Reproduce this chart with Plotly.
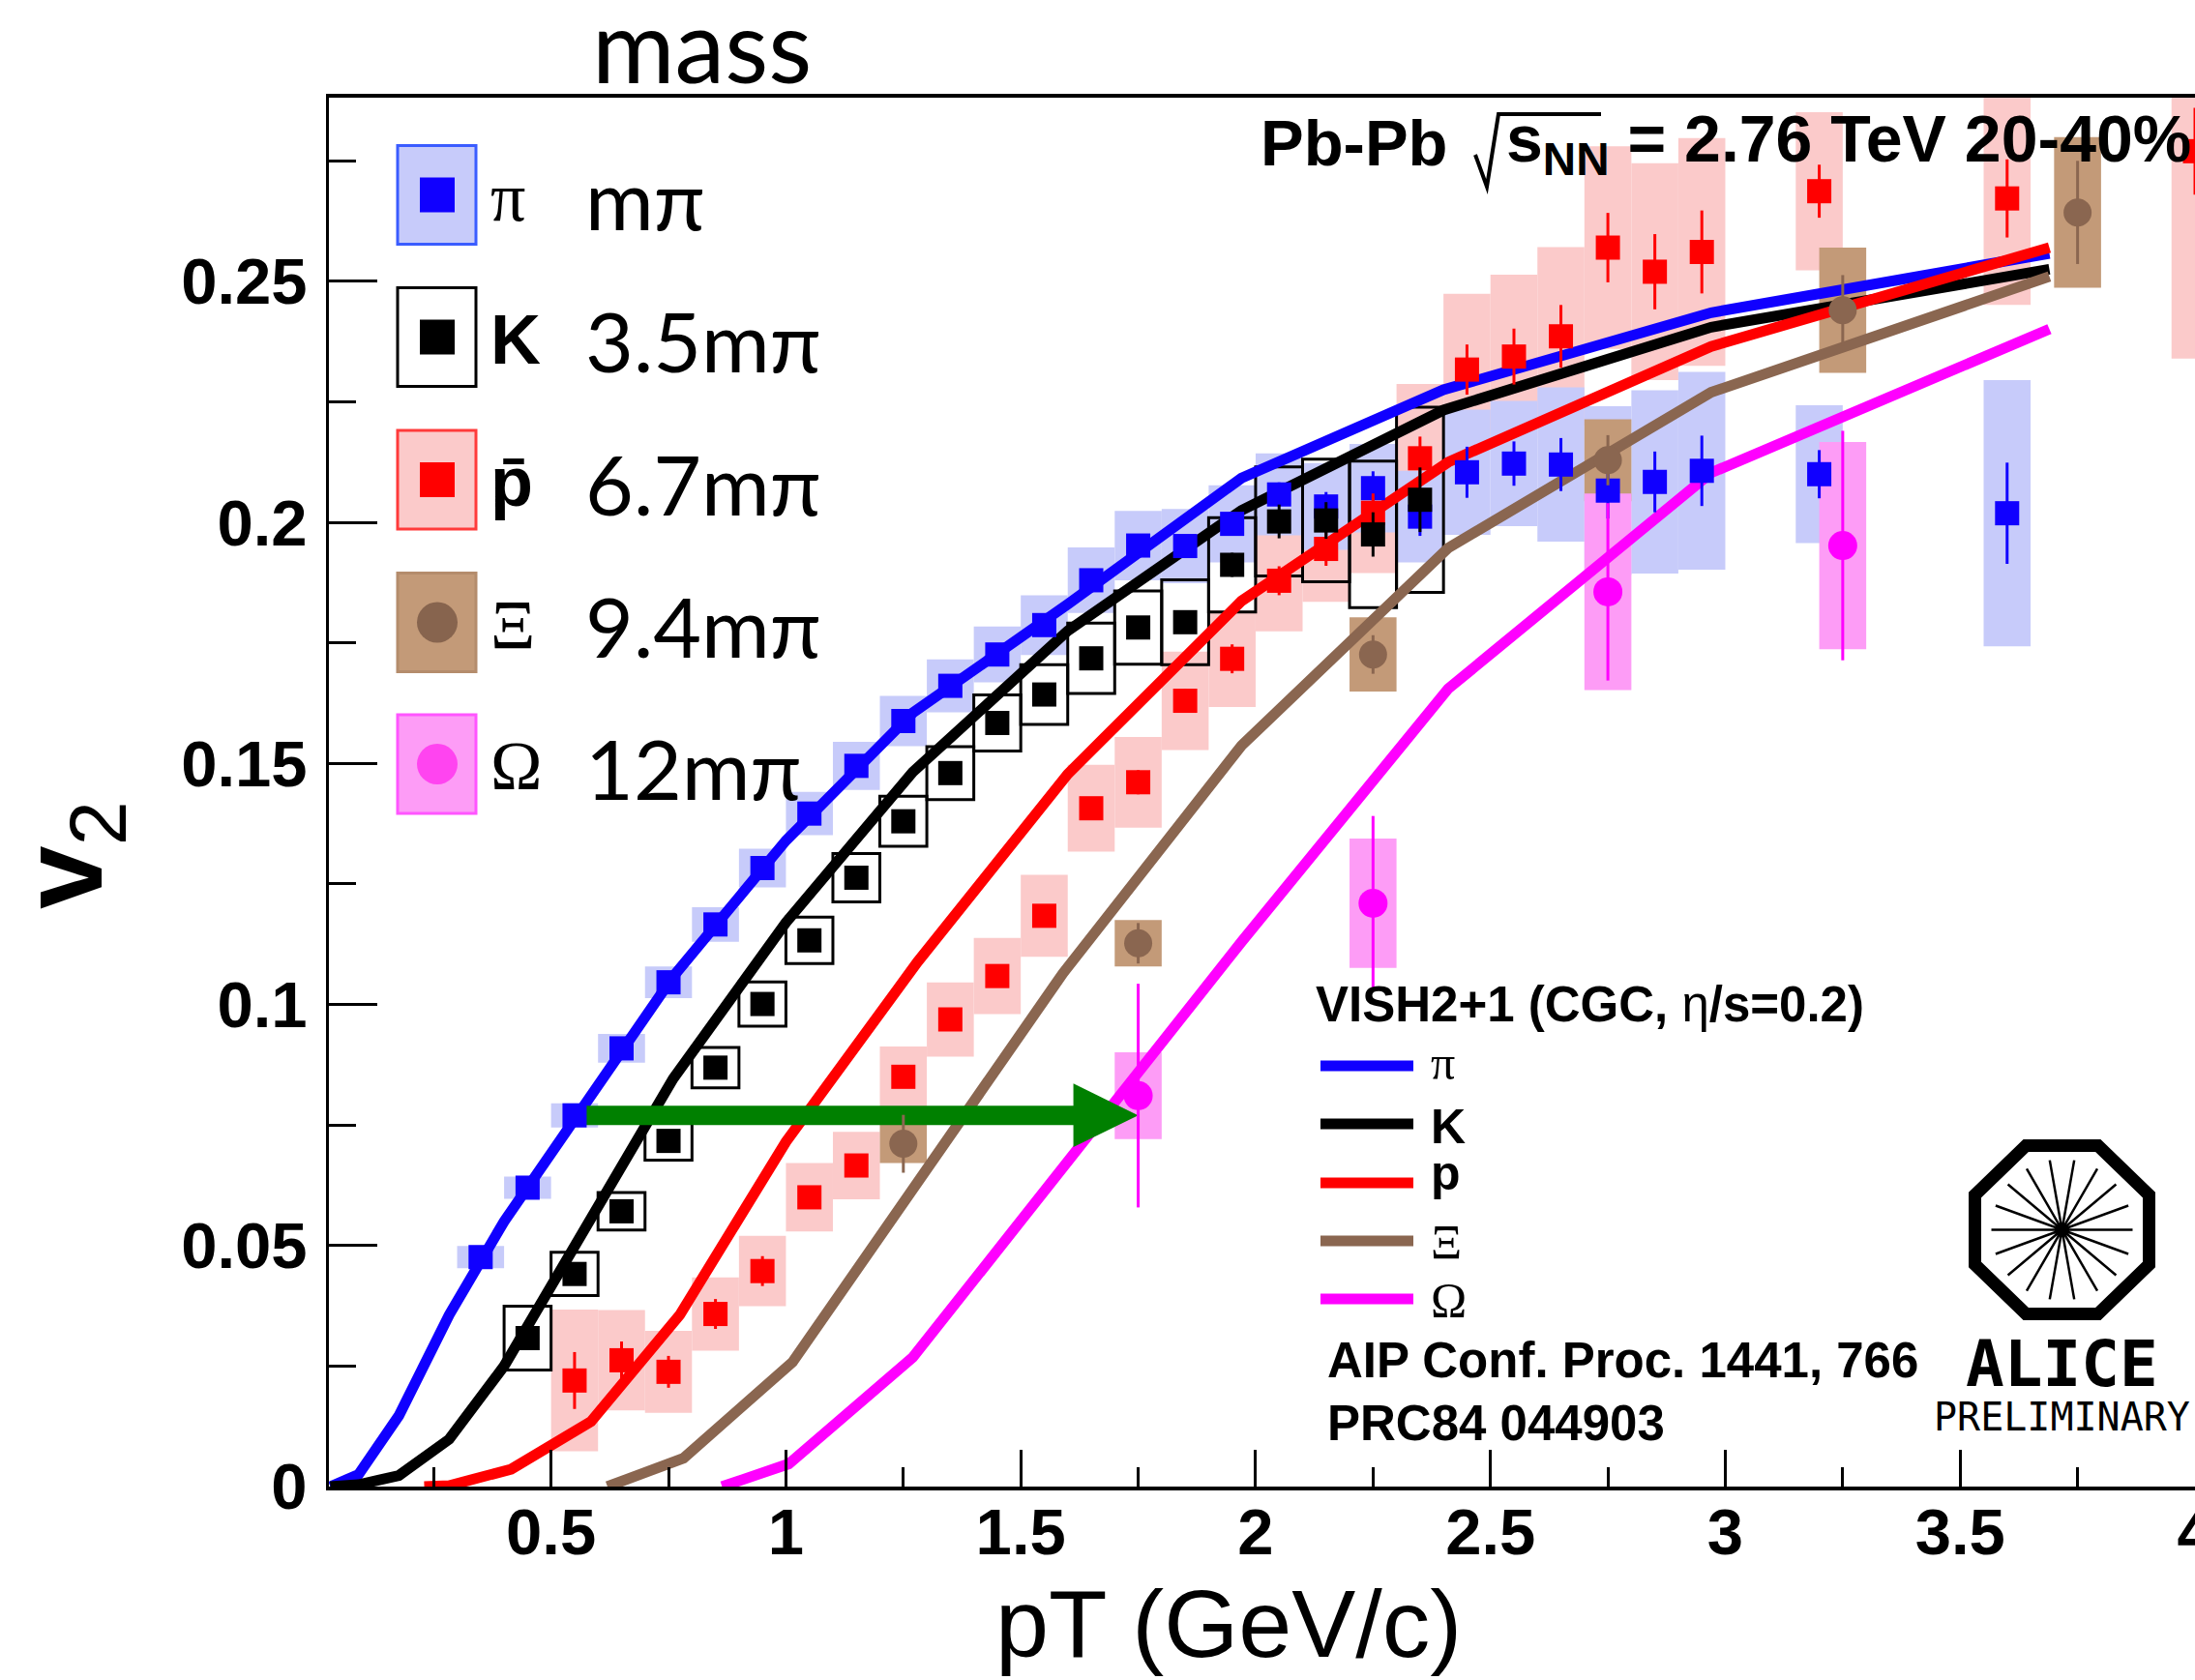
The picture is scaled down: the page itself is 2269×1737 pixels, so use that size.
import math
import plotly.graph_objects as go

# ---------------- measured v2(pT), Pb-Pb 2.76 TeV, 20-40% ----------------
pi_pt = [0.35, 0.45, 0.55, 0.65, 0.75, 0.85, 0.95, 1.05, 1.15, 1.25, 1.35, 1.45, 1.55, 1.65, 1.75,
         1.85, 1.95, 2.05, 2.15, 2.25, 2.35, 2.45, 2.55, 2.65, 2.75, 2.85, 2.95, 3.2, 3.6]
pi_v2 = [0.0476, 0.0620, 0.0770, 0.0909, 0.1046, 0.1166, 0.1283, 0.1396, 0.1495, 0.1588, 0.1661, 0.1726,
         0.1787, 0.1880, 0.1952, 0.1951, 0.1997, 0.2058, 0.2033, 0.2071, 0.2012, 0.2104, 0.2122, 0.2120,
         0.2066, 0.2084, 0.2107, 0.2100, 0.2019]
pi_stat = [0.001, 0.001, 0.001, 0.001, 0.001, 0.001, 0.001, 0.001, 0.001, 0.001, 0.001, 0.001, 0.001,
           0.0015, 0.0015, 0.0015, 0.002, 0.0025, 0.003, 0.0035, 0.004, 0.0053, 0.0046, 0.0055, 0.0058,
           0.0063, 0.0073, 0.005, 0.0105]
pi_sys = [0.0023, 0.0023, 0.0025, 0.0030, 0.0033, 0.0036, 0.0040, 0.0045, 0.0050, 0.0052, 0.0055, 0.0058,
          0.0062, 0.0068, 0.0072, 0.0077, 0.0080, 0.0085, 0.0090, 0.0092, 0.0095, 0.0130, 0.0130, 0.0160,
          0.0175, 0.0190, 0.0205, 0.0143, 0.0276]

k_pt = [0.45, 0.55, 0.65, 0.75, 0.85, 0.95, 1.05, 1.15, 1.25, 1.35, 1.45, 1.55, 1.65, 1.75, 1.85,
        1.95, 2.05, 2.15, 2.25, 2.35]
k_v2 = [0.0308, 0.0441, 0.0571, 0.0717, 0.0869, 0.1001, 0.1133, 0.1263, 0.1380, 0.1480, 0.1584, 0.1643,
        0.1718, 0.1782, 0.1793, 0.1912, 0.2002, 0.2004, 0.1975, 0.2047]
k_stat = [0.001, 0.001, 0.001, 0.001, 0.001, 0.001, 0.001, 0.001, 0.001, 0.001, 0.0012, 0.0012, 0.0015,
          0.0015, 0.002, 0.0025, 0.0035, 0.0038, 0.0046, 0.0067]
k_sys = [0.0066, 0.0045, 0.0039, 0.0040, 0.0042, 0.0046, 0.0048, 0.0050, 0.0052, 0.0055, 0.0058, 0.0062,
         0.0073, 0.0076, 0.0088, 0.0098, 0.0113, 0.0127, 0.0152, 0.0192]

p_pt = [0.55, 0.65, 0.75, 0.85, 0.95, 1.05, 1.15, 1.25, 1.35, 1.45, 1.55, 1.65, 1.75, 1.85, 1.95,
        2.05, 2.15, 2.25, 2.35, 2.45, 2.55, 2.65, 2.75, 2.85, 2.95, 3.2, 3.6, 4.0]
p_v2 = [0.0220, 0.0262, 0.0238, 0.0358, 0.0447, 0.0600, 0.0666, 0.0850, 0.0969, 0.1059, 0.1184, 0.1407,
        0.1461, 0.1630, 0.1717, 0.1879, 0.1945, 0.2020, 0.2133, 0.2317, 0.2344, 0.2386, 0.2570, 0.2520,
        0.2561, 0.2687, 0.2672, 0.2770]
p_stat = [0.0059, 0.0039, 0.0033, 0.0031, 0.0031, 0.002, 0.002, 0.002, 0.002, 0.002, 0.002, 0.002,
          0.0025, 0.0025, 0.003, 0.003, 0.0035, 0.004, 0.0045, 0.0052, 0.0058, 0.0065, 0.0072, 0.0078,
          0.0086, 0.0055, 0.0081, 0.009]
p_sys = [0.0147, 0.0104, 0.0085, 0.0076, 0.0073, 0.0071, 0.0070, 0.0063, 0.0077, 0.0079, 0.0085, 0.0090,
         0.0094, 0.0102, 0.0100, 0.0105, 0.0110, 0.0125, 0.0154, 0.0157, 0.0170, 0.0185, 0.0210, 0.0225,
         0.0236, 0.0164, 0.0221, 0.0430]

xi_pt = [1.25, 1.75, 2.25, 2.75, 3.25, 3.75]
xi_v2 = [0.0711, 0.1127, 0.1726, 0.2129, 0.2440, 0.2643]
xi_stat = [0.0060, 0.0042, 0.0040, 0.0052, 0.0073, 0.0107]
xi_sys = [0.0040, 0.0048, 0.0077, 0.0085, 0.0130, 0.0156]

om_pt = [1.75, 2.25, 2.75, 3.25]
om_v2 = [0.0811, 0.1210, 0.1856, 0.1952]
om_stat = [0.0232, 0.0181, 0.0184, 0.0238]
om_sys = [0.0090, 0.0134, 0.0204, 0.0215]

# ---------------- VISH2+1 (CGC, eta/s = 0.2) curves ----------------
pi_th_pt = [0.03, 0.09, 0.176, 0.283, 0.40, 0.76, 1.00, 1.27, 1.60, 1.97, 2.40, 2.97, 3.69]
pi_th_v2 = [0.0, 0.0025, 0.0147, 0.0356, 0.0550, 0.1058, 0.1340, 0.1605, 0.1830, 0.2092, 0.2275, 0.2435, 0.2558]
k_th_pt = [0.03, 0.09, 0.176, 0.283, 0.40, 0.76, 1.00, 1.27, 1.60, 1.97, 2.40, 2.97, 3.69]
k_th_v2 = [0.0, 0.0004, 0.0023, 0.0098, 0.0250, 0.0846, 0.1170, 0.1482, 0.1775, 0.2025, 0.2233, 0.2405, 0.2525]
p_th_pt = [0.23, 0.283, 0.415, 0.585, 0.774, 1.00, 1.28, 1.60, 1.97, 2.41, 2.97, 3.69]
p_th_v2 = [0.0, 0.0002, 0.0036, 0.0135, 0.0356, 0.0715, 0.1088, 0.1478, 0.1837, 0.2125, 0.2365, 0.2570]
xi_th_pt = [0.62, 0.782, 1.014, 1.27, 1.59, 1.97, 2.41, 2.97, 3.69]
xi_th_v2 = [0.0, 0.0059, 0.0258, 0.0615, 0.1065, 0.1537, 0.1947, 0.2270, 0.2510]
om_th_pt = [0.864, 1.006, 1.27, 1.97, 2.41, 2.97, 3.69]
om_th_v2 = [0.0, 0.0047, 0.0268, 0.1130, 0.1655, 0.2103, 0.2401]

# species legend text
species = ["\u03c0", "K", "p\u0304", "\u039e", "\u03a9"]
mass_ratio = ["m\u03c0", "3.5m\u03c0", "6.7m\u03c0", "9.4m\u03c0", "12m\u03c0"]

# ---------------- colours ----------------
BLUE, BLUE_BOX = "#1000ff", "#c7cbfa"
BLACK = "#000000"
RED, RED_BOX = "#ff0000", "#fbcaca"
BROWN, BROWN_BOX = "#8a6650", "#c39a78"
MAG, MAG_BOX = "#ff00ff", "#fd9cf6"
GREEN = "#008000"

# ---------------- page geometry (pixels) ----------------
FIG_W, FIG_H = 2269, 1737
L, T, R, B = 340, 101, 2269, 1537
PW, PH = R - L, B - T


def px(x):
    return (x - L) / PW


def py(y):
    return (B - y) / PH


fig = go.Figure()


def sys_boxes(pt, v2, sys, fill, outline=None):
    fig.add_trace(go.Bar(
        x=pt, y=[2 * s for s in sys], base=[v - s for v, s in zip(v2, sys)], width=0.1,
        marker=dict(color=fill if outline is None else "rgba(0,0,0,0)",
                    line=dict(width=0 if outline is None else 3, color=outline or fill)),
        hoverinfo="skip", showlegend=False))


# systematic uncertainty boxes
sys_boxes(p_pt, p_v2, p_sys, RED_BOX)
sys_boxes(pi_pt, pi_v2, pi_sys, BLUE_BOX)
sys_boxes(k_pt, k_v2, k_sys, None, outline=BLACK)
sys_boxes(xi_pt, xi_v2, xi_sys, BROWN_BOX)
sys_boxes(om_pt, om_v2, om_sys, MAG_BOX)

# hydro curves
for xs, ys, col in [(pi_th_pt, pi_th_v2, BLUE), (k_th_pt, k_th_v2, BLACK), (p_th_pt, p_th_v2, RED),
                    (xi_th_pt, xi_th_v2, BROWN), (om_th_pt, om_th_v2, MAG)]:
    fig.add_trace(go.Scatter(x=xs, y=ys, mode="lines", line=dict(color=col, width=11),
                             hoverinfo="skip", showlegend=False))

# arrow: pion v2 at 0.55 GeV/c carried over to the Omega at 1.75 GeV/c
arrow_from = pi_pt.index(0.55)
arrow_v2 = pi_v2[arrow_from]
arrow_tip = om_pt[0]
HEAD_LEN, HEAD_HALF = 0.138, 0.0066
fig.add_trace(go.Scatter(x=[pi_pt[arrow_from], arrow_tip - HEAD_LEN + 0.005], y=[arrow_v2, arrow_v2],
                         mode="lines", line=dict(color=GREEN, width=20), hoverinfo="skip", showlegend=False))
fig.add_trace(go.Scatter(x=[arrow_tip - HEAD_LEN, arrow_tip, arrow_tip - HEAD_LEN, arrow_tip - HEAD_LEN],
                         y=[arrow_v2 + HEAD_HALF, arrow_v2, arrow_v2 - HEAD_HALF, arrow_v2 + HEAD_HALF],
                         mode="lines", fill="toself", fillcolor=GREEN, line=dict(color=GREEN, width=0),
                         hoverinfo="skip", showlegend=False))


def points(pt, v2, stat, col, symbol, size):
    fig.add_trace(go.Scatter(
        x=pt, y=v2, mode="markers",
        marker=dict(symbol=symbol, size=size, color=col, line=dict(width=0)),
        error_y=dict(type="data", array=stat, color=col, thickness=3, width=0),
        hoverinfo="skip", showlegend=False))


points(pi_pt, pi_v2, pi_stat, BLUE, "square", 25)
points(p_pt, p_v2, p_stat, RED, "square", 25)
points(k_pt, k_v2, k_stat, BLACK, "square", 25)
points(xi_pt, xi_v2, xi_stat, BROWN, "circle", 29)
points(om_pt, om_v2, om_stat, MAG, "circle", 30)

shapes = []
annotations = []


def text(s, x, y, size, family="Liberation Sans", xanchor="left", angle=0, color="black"):
    annotations.append(dict(text=s, x=px(x), y=py(y), xref="paper", yref="paper", xanchor=xanchor,
                            yanchor="middle", showarrow=False, textangle=angle,
                            font=dict(family=family, size=size, color=color)))


def rect(x0, y0, x1, y1, fill, line_col, lw, kind="rect"):
    shapes.append(dict(type=kind, xref="paper", yref="paper", x0=px(x0), x1=px(x1), y0=py(y1), y1=py(y0),
                       fillcolor=fill, line=dict(color=line_col, width=lw), layer="above"))


# ---- data legend (upper left) ----
row_y = [201.5, 348.5, 496, 643.5, 790]
box_fill = [BLUE_BOX, "white", RED_BOX, BROWN_BOX, MAG_BOX]
box_line = ["#3a5cff", BLACK, "#ff3a3a", "#b48c6c", "#ff55ff"]
mark_col = [BLUE, BLACK, RED, "#87644e", "#ff44f0"]
mark_kind = ["rect", "rect", "rect", "circle", "circle"]
greek_font = ["Liberation Serif", "Liberation Sans", "Liberation Sans", "Liberation Serif", "Liberation Serif"]
for i, cy in enumerate(row_y):
    rect(411, cy - 51, 492, cy + 51, box_fill[i], box_line[i], 3)
    h = 18 if mark_kind[i] == "rect" else 21
    rect(452 - h, cy - h, 452 + h, cy + h, mark_col[i], mark_col[i], 0, kind=mark_kind[i])
    lab = species[i] if greek_font[i].endswith("Serif") else "<b>" + species[i] + "</b>"
    text(lab, 505, cy + 2, 72, family=greek_font[i])
    text(mass_ratio[i], 603, cy + 3, 86, family="Lato")

# ---- model legend ----
text("<b>VISH2+1 (CGC, </b>\u03b7<b>/s=0.2)</b>", 1358, 1038, 51)
model_y = [1102, 1162, 1223, 1283, 1343]
model_col = [BLUE, BLACK, RED, BROWN, MAG]
model_lab = ["\u03c0", "<b>K</b>", "<b>p</b>", "\u039e", "\u03a9"]
model_font = ["Liberation Serif", "Liberation Sans", "Liberation Sans", "Liberation Serif", "Liberation Serif"]
model_dy = [-3, 3, -10, 1, 1]
for yy, col, lab, fam, dy in zip(model_y, model_col, model_lab, model_font, model_dy):
    shapes.append(dict(type="line", xref="paper", yref="paper", x0=px(1365), x1=px(1461), y0=py(yy), y1=py(yy),
                       line=dict(color=col, width=11)))
    text(lab, 1477, yy + dy, 50, family=fam)

text("<b>AIP Conf. Proc. 1441, 766</b>", 1370, 1406, 51)
text("<b>PRC84 044903</b>", 1370, 1471, 51)

# ---- collision system ----
text("<b>Pb-Pb</b>", 1301, 148, 67)
text("<b>s<sub>NN</sub> = 2.76 TeV 20-40%</b>", 1555, 148, 68)
shapes.append(dict(type="path", xref="paper", yref="paper",
                   path="M {},{} L {},{} L {},{} L {},{}".format(px(1525), py(160), px(1537), py(193),
                                                                  px(1549), py(118), px(1655), py(118)),
                   line=dict(color="black", width=4)))

# ---- experiment logo ----
cx, cy, ax, ay, t8 = 2131.5, 1271.5, 90, 87, 0.4142
octo = [(cx - t8 * ax, cy - ay), (cx + t8 * ax, cy - ay), (cx + ax, cy - t8 * ay), (cx + ax, cy + t8 * ay),
        (cx + t8 * ax, cy + ay), (cx - t8 * ax, cy + ay), (cx - ax, cy + t8 * ay), (cx - ax, cy - t8 * ay)]
shapes.append(dict(type="path", xref="paper", yref="paper",
                   path="M " + " L ".join("{},{}".format(px(a), py(b)) for a, b in octo) + " Z",
                   line=dict(color="black", width=13)))
spokes = " ".join("M {},{} L {},{}".format(px(cx), py(cy), px(cx + 73 * math.cos(math.radians(a))),
                                             py(cy - 73 * math.sin(math.radians(a))))
                  for a in range(0, 360, 20))
shapes.append(dict(type="path", xref="paper", yref="paper", path=spokes, line=dict(color="black", width=2.5)))
text("<b>ALICE</b>", 2131, 1410, 66, family="DejaVu Sans Mono", xanchor="center")
text("PRELIMINARY", 2131, 1465, 40, family="DejaVu Sans Mono", xanchor="center")

# ---- titles ----
text("mass", 725, 46, 104, family="Lato", xanchor="center")
text("pT (GeV/c)", 1270, 1678, 99, xanchor="center")
annotations.append(dict(text="<b>v</b><sub>2</sub>", x=px(73), y=py(884), xref="paper", yref="paper",
                        xanchor="center", yanchor="middle", showarrow=False, textangle=-90,
                        font=dict(family="Liberation Sans", size=118, color="black")))

tick_font = dict(family="Liberation Sans", size=67, color="black", weight="bold")
fig.update_layout(
    width=FIG_W, height=FIG_H, autosize=False,
    margin=dict(l=L, r=FIG_W - R, t=T, b=FIG_H - B, pad=0, autoexpand=False),
    paper_bgcolor="white", plot_bgcolor="white",
    barmode="overlay", showlegend=False,
    shapes=shapes, annotations=annotations,
    xaxis=dict(range=[0.027, 4.0], showgrid=False, zeroline=False, showline=True, linecolor="black",
               linewidth=4, mirror=True, ticks="inside", tick0=0, dtick=0.5, ticklen=38, tickwidth=3,
               tickcolor="black", tickfont=tick_font, ticklabelstandoff=-14, ticklabeloverflow="allow",
               automargin=False,
               minor=dict(ticks="inside", tick0=0, dtick=0.25, ticklen=20, tickwidth=3, tickcolor="black")),
    yaxis=dict(range=[0, 0.2881], showgrid=False, zeroline=False, showline=True, linecolor="black",
               linewidth=3, ticks="inside", tick0=0, dtick=0.05, ticklen=50, tickwidth=3,
               tickcolor="black", tickfont=tick_font, ticklabelstandoff=6, automargin=False,
               minor=dict(ticks="inside", tick0=0, dtick=0.025, ticklen=28, tickwidth=3, tickcolor="black")),
)

fig.write_html("out.html")
